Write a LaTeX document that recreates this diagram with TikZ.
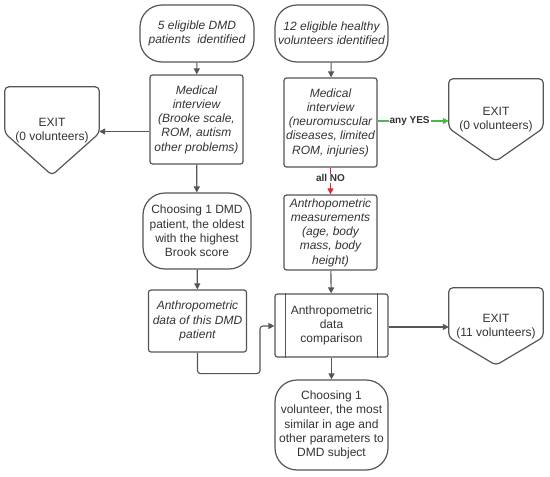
\documentclass[tikz,border=0pt]{standalone}
\usepackage{fontspec}
\setmainfont{Liberation Sans}
\usetikzlibrary{arrows.meta,calc}
\definecolor{lc}{HTML}{555555}
\definecolor{tc}{HTML}{333333}
\definecolor{gc}{HTML}{4CB848}
\definecolor{rc}{HTML}{E02535}
\newcommand\drawexit[2]{\draw[flow,rounded corners=4pt] (#1.north west) -- (#1.north east) -- ([yshift=#2]#1.south east) -- (#1.south) -- ([yshift=#2]#1.south west) -- cycle;}
\tikzset{
  flow/.style={draw=lc,line width=1.2pt},
  base/.style={flow,text=tc,align=center,inner sep=0pt,font=\fontsize{12}{14.2}\selectfont},
  term/.style={base,rounded corners=22pt},
  proc/.style={base,rounded corners=2.5pt},
  exitbox/.style={text=tc,align=center,inner sep=0pt,font=\fontsize{12}{14.2}\selectfont,minimum width=94pt},
  arr/.style={draw=lc,line width=1.1pt,-{Triangle[length=6pt,width=6pt]}},
  lab/.style={font=\fontsize{10}{11}\selectfont\bfseries,text=tc,fill=white,inner sep=1pt}
}
\begin{document}
\begin{tikzpicture}[x=1pt,y=-1pt]
\useasboundingbox (0,0) rectangle (550,477);
% left column
\node[term,minimum width=114pt,minimum height=57pt] (tL) at (197,33.5) {\itshape 5 eligible DMD\\\itshape patients\ \ identified};
\node[proc,minimum width=93pt,minimum height=89pt] (mL) at (196.5,119.5) {\itshape Medical\\\itshape interview\\\itshape (Brooke scale,\\\itshape ROM, autism\\\itshape other problems)};
\node[term,minimum width=108pt,minimum height=76pt] (cL) at (197,231) {Choosing 1 DMD\\patient, the oldest\\with the highest\\Brook score};
\node[proc,minimum width=98pt,minimum height=62pt] (aL) at (197.5,321) {\itshape Anthropometric\\\itshape data of this DMD\\\itshape patient};
\node[exitbox,minimum height=88pt] (eL) at (52,131) {EXIT\\(0 volunteers)};
\drawexit{eL}{42pt}
% right column
\node[term,minimum width=113pt,minimum height=57pt] (tR) at (331.5,33.5) {\itshape 12 eligible healthy\\\itshape volunteers identified};
\node[proc,minimum width=93pt,minimum height=89pt] (mR) at (330.5,122.5) {\itshape Medical\\\itshape interview\\\itshape (neuromuscular\\\itshape diseases, limited\\\itshape ROM, injuries)};
\node[proc,minimum width=93pt,minimum height=75pt] (aR) at (330.5,232.5) {\itshape Antrhopometric\\\itshape measurements\\\itshape (age, body\\\itshape mass, body\\\itshape height)};
\node[proc,minimum width=113pt,minimum height=63pt] (cmp) at (331.5,325.5) {Anthropometric\\data\\comparison};
\draw[flow] ([xshift=11pt]cmp.north west) -- ([xshift=11pt]cmp.south west);
\draw[flow] ([xshift=-11pt]cmp.north east) -- ([xshift=-11pt]cmp.south east);
\node[term,minimum width=113pt,minimum height=90pt] (cR) at (331.5,425) {Choosing 1\\volunteer, the most\\similar in age and\\other parameters to\\DMD subject};
\node[exitbox,minimum height=82pt] (eR) at (496,120) {EXIT\\(0 volunteers)};
\drawexit{eR}{33pt}
\node[exitbox,minimum height=77pt] (e11) at (496,326.5) {EXIT\\(11 volunteers)};
\drawexit{e11}{28pt}
% connectors
\draw[arr] (tL) -- (mL);
\draw[arr] ([yshift=-12pt]mL.west) -- ([yshift=-12pt]mL.west -| eL.east);
\draw[arr] (mL) -- (cL);
\draw[arr] (cL) -- (aL);
\draw[arr,rounded corners=3pt] (aL.south) -- ++(0,21) -| (260,326) -- (cmp.west |- 0,326);
\draw[arr] (tR) -- (mR);
\draw[arr,draw=gc,-{Triangle[length=6pt,width=6pt,fill=gc]}] (mR.east |- 0,121) -- node[lab,pos=0.45]{any YES} (eR.west |- 0,121);
\draw[arr,draw=rc,-{Triangle[length=6pt,width=6pt,fill=rc]}] (mR) -- node[lab,pos=0.4]{all NO} (aR);
\draw[arr] (aR) -- (cmp);
\draw[arr] (cmp.east |- 0,327) -- (e11.west |- 0,327);
\draw[arr] (cmp) -- (cR);
\end{tikzpicture}
\end{document}
